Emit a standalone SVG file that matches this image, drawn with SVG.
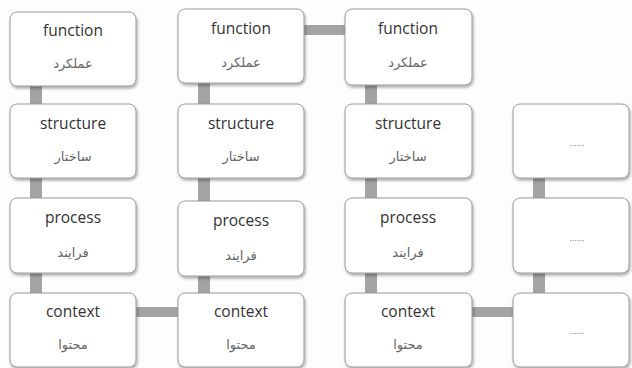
<svg xmlns="http://www.w3.org/2000/svg" width="632" height="368" viewBox="0 0 632 368">
<defs>
<filter id="sh" x="-10%" y="-10%" width="125%" height="130%">
<feGaussianBlur in="SourceAlpha" stdDeviation="1.5"/>
<feOffset dx="1" dy="1.5" result="b"/>
<feComponentTransfer><feFuncA type="linear" slope="0.35"/></feComponentTransfer>
<feMerge><feMergeNode/><feMergeNode in="SourceGraphic"/></feMerge>
</filter>
<style>
.box{fill:#fff;stroke:#9a9a9a;stroke-width:1;filter:url(#sh)}
.en{font-family:"Open Sans","Liberation Sans",sans-serif;font-size:15.5px;fill:#333;text-anchor:middle}
.fa{font-family:"DejaVu Sans","Noto Sans",sans-serif;font-size:13px;fill:#666;text-anchor:middle}
.dots{font-family:"Liberation Sans",sans-serif;font-size:9px;fill:#777;text-anchor:middle}
.bar{fill:#a3a3a3}
</style>
</defs>
<rect width="632" height="368" fill="#fdfdfd"/>
<g id="connectors">
<rect class="bar" x="30" y="85" width="12" height="20"/>
<rect class="bar" x="30" y="177" width="12" height="22"/>
<rect class="bar" x="30" y="272" width="12" height="22"/>
<rect class="bar" x="198" y="82" width="12" height="23"/>
<rect class="bar" x="198" y="177" width="12" height="25"/>
<rect class="bar" x="198" y="275" width="12" height="19"/>
<rect class="bar" x="365" y="84" width="12" height="21"/>
<rect class="bar" x="365" y="177" width="12" height="22"/>
<rect class="bar" x="365" y="272" width="12" height="22"/>
<rect class="bar" x="533" y="177" width="12" height="22"/>
<rect class="bar" x="533" y="272" width="12" height="22"/>
<rect class="bar" x="303" y="25" width="43" height="10"/>
<rect class="bar" x="135" y="307" width="44" height="10"/>
<rect class="bar" x="471" y="307" width="43" height="10"/>
</g>
<g id="n1"><rect class="box" x="10" y="12" width="126" height="74" rx="7"/><text class="en" x="73" y="36">function</text><text class="fa" x="73" y="68">عملکرد</text></g>
<g id="n2"><rect class="box" x="178" y="9" width="126" height="74" rx="7"/><text class="en" x="241" y="34">function</text><text class="fa" x="241" y="67">عملکرد</text></g>
<g id="n3"><rect class="box" x="345" y="9" width="127" height="76" rx="7"/><text class="en" x="408" y="34">function</text><text class="fa" x="408" y="67">عملکرد</text></g>
<g id="n4"><rect class="box" x="10" y="104" width="126" height="74" rx="7"/><text class="en" x="73" y="129">structure</text><text class="fa" x="73" y="161">ساختار</text></g>
<g id="n5"><rect class="box" x="178" y="104" width="126" height="74" rx="7"/><text class="en" x="241" y="129">structure</text><text class="fa" x="241" y="161">ساختار</text></g>
<g id="n6"><rect class="box" x="345" y="104" width="127" height="74" rx="7"/><text class="en" x="408" y="129">structure</text><text class="fa" x="408" y="161">ساختار</text></g>
<g id="n7"><rect class="box" x="513" y="104" width="116" height="74" rx="7"/><text class="dots" x="577" y="146">......</text></g>
<g id="n8"><rect class="box" x="10" y="198" width="126" height="75" rx="7"/><text class="en" x="73" y="223">process</text><text class="fa" x="73" y="257">فرایند</text></g>
<g id="n9"><rect class="box" x="178" y="201" width="126" height="75" rx="7"/><text class="en" x="241" y="226">process</text><text class="fa" x="241" y="260">فرایند</text></g>
<g id="n10"><rect class="box" x="345" y="198" width="127" height="75" rx="7"/><text class="en" x="408" y="223">process</text><text class="fa" x="408" y="257">فرایند</text></g>
<g id="n11"><rect class="box" x="513" y="198" width="116" height="75" rx="7"/><text class="dots" x="577" y="241">......</text></g>
<g id="n12"><rect class="box" x="10" y="293" width="126" height="74" rx="7"/><text class="en" x="73" y="317">context</text><text class="fa" x="73" y="349">محتوا</text></g>
<g id="n13"><rect class="box" x="178" y="293" width="126" height="74" rx="7"/><text class="en" x="241" y="317">context</text><text class="fa" x="241" y="349">محتوا</text></g>
<g id="n14"><rect class="box" x="345" y="293" width="127" height="74" rx="7"/><text class="en" x="408" y="317">context</text><text class="fa" x="408" y="349">محتوا</text></g>
<g id="n15"><rect class="box" x="513" y="293" width="116" height="74" rx="7"/><text class="dots" x="577" y="334">......</text></g>
</svg>
